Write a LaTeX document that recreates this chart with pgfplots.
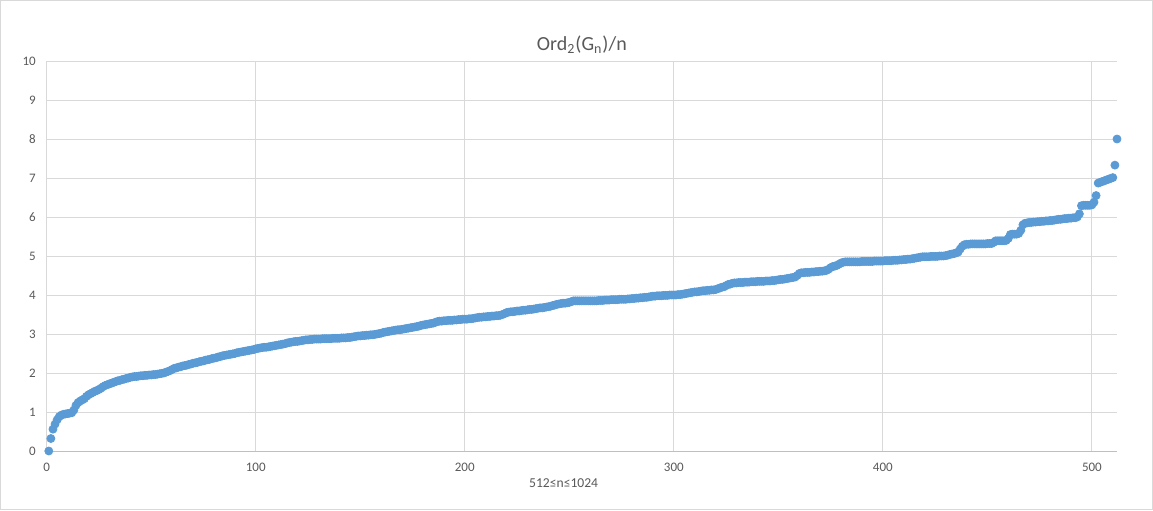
\documentclass[border=0pt]{standalone}
\usepackage{fontspec}
\setmainfont{Carlito}
\usepackage{pgfplots}
\usepackage{pgfplotstable}
\pgfplotsset{compat=1.18}
\definecolor{markblue}{RGB}{91,155,213}
\definecolor{gridgray}{RGB}{217,217,217}
\definecolor{axisgray}{RGB}{191,191,191}
\definecolor{textgray}{RGB}{89,89,89}

% sorted values, one per n (index 1..512)
\pgfplotstableread[row sep=\\]{
v \\
0 \\ 0.32 \\ 0.56 \\ 0.69 \\ 0.80 \\ 0.88 \\ 0.92 \\ 0.94 \\
0.95 \\ 0.96 \\ 0.97 \\ 0.98 \\ 1.05 \\ 1.17 \\ 1.24 \\ 1.28 \\
1.31 \\ 1.34 \\ 1.40 \\ 1.44 \\ 1.47 \\ 1.50 \\ 1.53 \\ 1.55 \\
1.58 \\ 1.61 \\ 1.65 \\ 1.68 \\ 1.70 \\ 1.72 \\ 1.74 \\ 1.76 \\
1.78 \\ 1.80 \\ 1.81 \\ 1.83 \\ 1.84 \\ 1.86 \\ 1.87 \\ 1.89 \\
1.90 \\ 1.91 \\ 1.91 \\ 1.92 \\ 1.93 \\ 1.93 \\ 1.94 \\ 1.94 \\
1.95 \\ 1.95 \\ 1.96 \\ 1.96 \\ 1.97 \\ 1.98 \\ 1.99 \\ 2.00 \\
2.02 \\ 2.04 \\ 2.06 \\ 2.09 \\ 2.12 \\ 2.13 \\ 2.15 \\ 2.16 \\
2.18 \\ 2.19 \\ 2.20 \\ 2.22 \\ 2.23 \\ 2.25 \\ 2.26 \\ 2.27 \\
2.29 \\ 2.30 \\ 2.31 \\ 2.33 \\ 2.34 \\ 2.35 \\ 2.37 \\ 2.38 \\
2.39 \\ 2.41 \\ 2.42 \\ 2.44 \\ 2.45 \\ 2.46 \\ 2.47 \\ 2.48 \\
2.49 \\ 2.50 \\ 2.52 \\ 2.53 \\ 2.54 \\ 2.55 \\ 2.56 \\ 2.57 \\
2.58 \\ 2.59 \\ 2.60 \\ 2.62 \\ 2.63 \\ 2.64 \\ 2.65 \\ 2.66 \\
2.66 \\ 2.67 \\ 2.68 \\ 2.69 \\ 2.70 \\ 2.71 \\ 2.72 \\ 2.73 \\
2.74 \\ 2.75 \\ 2.77 \\ 2.78 \\ 2.79 \\ 2.80 \\ 2.81 \\ 2.81 \\
2.82 \\ 2.83 \\ 2.84 \\ 2.85 \\ 2.85 \\ 2.86 \\ 2.86 \\ 2.87 \\
2.87 \\ 2.87 \\ 2.87 \\ 2.88 \\ 2.88 \\ 2.88 \\ 2.88 \\ 2.88 \\
2.89 \\ 2.89 \\ 2.89 \\ 2.89 \\ 2.90 \\ 2.90 \\ 2.90 \\ 2.91 \\
2.91 \\ 2.92 \\ 2.93 \\ 2.94 \\ 2.95 \\ 2.95 \\ 2.96 \\ 2.96 \\
2.97 \\ 2.97 \\ 2.98 \\ 2.98 \\ 2.99 \\ 3.00 \\ 3.01 \\ 3.02 \\
3.04 \\ 3.05 \\ 3.06 \\ 3.07 \\ 3.08 \\ 3.09 \\ 3.10 \\ 3.11 \\
3.11 \\ 3.12 \\ 3.13 \\ 3.14 \\ 3.15 \\ 3.16 \\ 3.17 \\ 3.18 \\
3.19 \\ 3.20 \\ 3.22 \\ 3.23 \\ 3.24 \\ 3.25 \\ 3.26 \\ 3.27 \\
3.28 \\ 3.30 \\ 3.32 \\ 3.33 \\ 3.33 \\ 3.34 \\ 3.34 \\ 3.35 \\
3.35 \\ 3.35 \\ 3.36 \\ 3.36 \\ 3.37 \\ 3.37 \\ 3.38 \\ 3.38 \\
3.38 \\ 3.39 \\ 3.39 \\ 3.40 \\ 3.41 \\ 3.42 \\ 3.43 \\ 3.43 \\
3.44 \\ 3.44 \\ 3.45 \\ 3.45 \\ 3.46 \\ 3.46 \\ 3.47 \\ 3.47 \\
3.48 \\ 3.50 \\ 3.52 \\ 3.55 \\ 3.56 \\ 3.57 \\ 3.57 \\ 3.58 \\
3.59 \\ 3.59 \\ 3.60 \\ 3.61 \\ 3.61 \\ 3.62 \\ 3.63 \\ 3.63 \\
3.64 \\ 3.65 \\ 3.66 \\ 3.67 \\ 3.67 \\ 3.68 \\ 3.69 \\ 3.70 \\
3.71 \\ 3.73 \\ 3.74 \\ 3.76 \\ 3.77 \\ 3.78 \\ 3.79 \\ 3.79 \\
3.80 \\ 3.81 \\ 3.83 \\ 3.85 \\ 3.85 \\ 3.85 \\ 3.85 \\ 3.85 \\
3.85 \\ 3.85 \\ 3.85 \\ 3.85 \\ 3.85 \\ 3.85 \\ 3.85 \\ 3.86 \\
3.86 \\ 3.86 \\ 3.87 \\ 3.87 \\ 3.87 \\ 3.88 \\ 3.88 \\ 3.88 \\
3.88 \\ 3.89 \\ 3.89 \\ 3.89 \\ 3.89 \\ 3.90 \\ 3.90 \\ 3.91 \\
3.91 \\ 3.92 \\ 3.92 \\ 3.93 \\ 3.93 \\ 3.94 \\ 3.94 \\ 3.95 \\
3.96 \\ 3.97 \\ 3.97 \\ 3.98 \\ 3.98 \\ 3.98 \\ 3.99 \\ 3.99 \\
3.99 \\ 4.00 \\ 4.00 \\ 4.00 \\ 4.00 \\ 4.01 \\ 4.01 \\ 4.02 \\
4.03 \\ 4.04 \\ 4.05 \\ 4.06 \\ 4.07 \\ 4.08 \\ 4.08 \\ 4.09 \\
4.10 \\ 4.11 \\ 4.11 \\ 4.12 \\ 4.12 \\ 4.13 \\ 4.13 \\ 4.14 \\
4.16 \\ 4.18 \\ 4.20 \\ 4.21 \\ 4.24 \\ 4.27 \\ 4.28 \\ 4.30 \\
4.31 \\ 4.31 \\ 4.32 \\ 4.32 \\ 4.32 \\ 4.33 \\ 4.33 \\ 4.33 \\
4.34 \\ 4.34 \\ 4.34 \\ 4.35 \\ 4.35 \\ 4.35 \\ 4.35 \\ 4.36 \\
4.36 \\ 4.36 \\ 4.37 \\ 4.37 \\ 4.38 \\ 4.39 \\ 4.40 \\ 4.40 \\
4.41 \\ 4.42 \\ 4.43 \\ 4.44 \\ 4.45 \\ 4.46 \\ 4.50 \\ 4.55 \\
4.57 \\ 4.57 \\ 4.58 \\ 4.58 \\ 4.58 \\ 4.59 \\ 4.59 \\ 4.60 \\
4.60 \\ 4.61 \\ 4.61 \\ 4.62 \\ 4.63 \\ 4.66 \\ 4.70 \\ 4.73 \\
4.74 \\ 4.76 \\ 4.79 \\ 4.82 \\ 4.84 \\ 4.85 \\ 4.85 \\ 4.85 \\
4.85 \\ 4.85 \\ 4.85 \\ 4.85 \\ 4.85 \\ 4.86 \\ 4.86 \\ 4.86 \\
4.86 \\ 4.86 \\ 4.86 \\ 4.87 \\ 4.87 \\ 4.87 \\ 4.87 \\ 4.87 \\
4.88 \\ 4.88 \\ 4.88 \\ 4.88 \\ 4.89 \\ 4.89 \\ 4.89 \\ 4.90 \\
4.90 \\ 4.91 \\ 4.91 \\ 4.92 \\ 4.92 \\ 4.93 \\ 4.94 \\ 4.95 \\
4.96 \\ 4.97 \\ 4.98 \\ 4.98 \\ 4.98 \\ 4.98 \\ 4.99 \\ 4.99 \\
4.99 \\ 4.99 \\ 5.00 \\ 5.00 \\ 5.00 \\ 5.01 \\ 5.02 \\ 5.04 \\
5.05 \\ 5.06 \\ 5.08 \\ 5.10 \\ 5.18 \\ 5.25 \\ 5.29 \\ 5.30 \\
5.30 \\ 5.31 \\ 5.31 \\ 5.31 \\ 5.31 \\ 5.31 \\ 5.31 \\ 5.31 \\
5.31 \\ 5.32 \\ 5.32 \\ 5.32 \\ 5.35 \\ 5.39 \\ 5.39 \\ 5.39 \\
5.39 \\ 5.39 \\ 5.40 \\ 5.45 \\ 5.55 \\ 5.56 \\ 5.56 \\ 5.56 \\
5.58 \\ 5.66 \\ 5.80 \\ 5.84 \\ 5.85 \\ 5.86 \\ 5.86 \\ 5.87 \\
5.87 \\ 5.88 \\ 5.88 \\ 5.89 \\ 5.89 \\ 5.90 \\ 5.90 \\ 5.91 \\
5.91 \\ 5.92 \\ 5.93 \\ 5.94 \\ 5.94 \\ 5.95 \\ 5.96 \\ 5.96 \\
5.97 \\ 5.97 \\ 5.98 \\ 5.98 \\ 6.00 \\ 6.08 \\ 6.29 \\ 6.30 \\
6.30 \\ 6.30 \\ 6.30 \\ 6.31 \\ 6.38 \\ 6.55 \\ 6.87 \\ 6.89 \\
6.91 \\ 6.93 \\ 6.95 \\ 6.97 \\ 6.99 \\ 7.01 \\ 7.33 \\ 8.00 \\
}\ordtable

\begin{document}
\begin{tikzpicture}
% chart area frame (1 px = 0.5pt)
\useasboundingbox (-23.35pt,-29.5pt) rectangle (553.15pt,225.5pt);
\draw[gridgray, line width=0.5pt] (-23.1pt,-29.25pt) rectangle (552.9pt,225.25pt);
\begin{axis}[
  scale only axis,
  width=535.15pt, height=195pt,
  xmin=0, xmax=512, ymin=0, ymax=10,
  xtick={0,100,...,500},
  ytick={0,1,...,10},
  grid=major,
  grid style={draw=gridgray, line width=0.5pt},
  axis line style={draw=none},
  major tick length=0pt,
  clip=false,
  /pgf/number format/assume math mode=true,
  ticklabel style={font=\fontsize{6.5}{7}\selectfont, text=textgray, inner sep=0pt},
  xticklabel style={anchor=base, yshift=-10pt},
  yticklabel style={anchor=east, xshift=-5.3pt},
  title={Ord\textsubscript{2}(G\textsubscript{n})/n},
  title style={at={(axis description cs:0.5,1)}, anchor=base, yshift=-0.5pt,
               font=\fontsize{10}{12}\selectfont, text=textgray, inner sep=0pt},
  xlabel={512≤n≤1024},
  xlabel style={at={(axis description cs:0.483,0)}, anchor=base, yshift=-18pt,
                font=\fontsize{6.8}{8}\selectfont, text=textgray, inner sep=0pt},
]
\draw[axisgray, line width=0.5pt] (rel axis cs:0,0) -- (rel axis cs:1,0);
\addplot[only marks, mark=*, mark size=2pt,
  mark options={fill=markblue, draw=markblue}]
  table[x expr=\coordindex+1, y=v] {\ordtable};
\end{axis}
\end{tikzpicture}
\end{document}
